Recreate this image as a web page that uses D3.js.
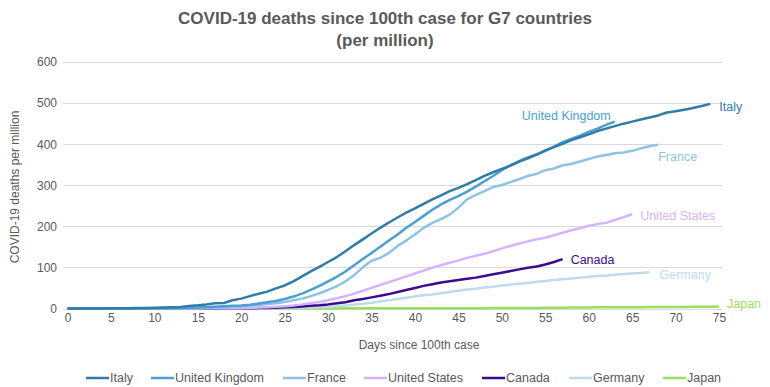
<!DOCTYPE html>
<meta charset="utf-8">
<style>
body { margin: 0; background: #fff; }
text { font-family: "Liberation Sans", Arial, sans-serif; fill: #595959; }
.title { font-weight: bold; font-size: 17px; }
.grid line { stroke: #d9d9d9; stroke-width: 1; }
.series path { fill: none; stroke-width: 2.5px; stroke-linejoin: round; }
</style>
<svg width="770" height="387"></svg>
<script src="https://cdn.jsdelivr.net/npm/d3@7"></script>
<script>

var countries = ["Italy", "United Kingdom", "France", "United States", "Canada", "Germany", "Japan"];

var italy = [0.1,0.1,0.2,0.2,0.3,0.5,0.6,0.9,1.2,1.3,1.8,2.6,3.1,3.9,6.1,7.7,10,13,13.5,20,
  24,30,36,41,49,56,66,78,90,101,113,125,139,154,168,182,196,209,221,233,
  243,254,265,275,285,293,302,312,322,331,339,347,357,365,374,384,392,400,409,416,
  423,431,437,443,449,454,459,464,469,476,479,483,487,492,497];

var uk = [0,0,0,0,0,0.1,0.1,0.1,0.2,0.3,0.5,0.8,0.9,1.1,2.1,2.7,3.5,4.4,5.3,6.5,
  7,9,12,15,18,23,29,36,45,55,66,77,90,105,120,135,150,165,180,196,
  210,225,240,253,264,273,284,296,309,322,336,348,358,367,374,383,393,404,412,420,
  429,437,446,454];

var france = [0,0,0,0,0,0,0,0.1,0.1,0.2,0.3,0.3,0.5,0.7,1.2,1.4,1.9,2.3,3.3,3.9,
  5.6,6.6,8.5,11,13,16,20,24,30,37,45,54,66,81,100,116,123,135,152,165,
  180,196,208,217,228,245,265,276,285,295,300,307,314,322,327,336,340,348,351,357,
  363,369,373,377,379,383,389,394,398];

var us = [0,0,0,0,0,0,0,0,0,0,0.1,0.1,0.1,0.2,0.2,0.3,0.4,0.5,0.7,0.9,
  1.2,1.6,2.2,3,4,5.5,7.5,10,13,16,20,25,30,36,43,50,57,64,71,78,
  85,92,99,105,111,117,123,128,133,139,146,152,158,163,168,172,178,184,190,195,
  201,205,208,215,222,229];

var canada = [0,0,0,0,0,0,0,0,0,0,0,0,0,0,0,0,0.1,0.2,0.3,0.4,
  0.5,0.7,1,1.4,2,2.8,3.8,5,6.5,8,10,12.5,15,20,23,27,31,35,40,45,
  50,55,59,63,66,69,72,75,79,83,87,91,95,99,102,107,113,120];

var germany = [0,0,0,0,0,0,0,0,0,0,0,0,0,0,0,0,0,0,0,0,
  0.1,0.1,0.2,0.3,0.4,0.6,1,1.5,2.2,3,4.5,6,7.5,9.5,11.5,14,17,20,23,26,
  29,32,34,37,40,43,46,48,51,53,56,58,60,62,65,67,69,71,73,75,
  77,79,80,82,84,85,86,88];

var japan = [0,0,0,0,0,0,0,0,0,0,0,0,0,0,0.05,0.05,0.05,0.05,0.1,0.1,
  0.1,0.1,0.15,0.15,0.2,0.2,0.2,0.25,0.25,0.3,0.3,0.3,0.35,0.35,0.4,0.4,0.4,0.45,0.5,0.5,
  0.55,0.6,0.6,0.65,0.7,0.75,0.8,0.85,0.9,1,1.1,1.2,1.3,1.4,1.5,1.7,1.9,2.1,2.3,2.5,
  2.7,2.8,2.9,3,3.1,3.2,3.3,3.4,3.5,3.6,3.7,3.9,4.1,4.3,4.5,4.7];

var xTicks = d3.range(0, 76, 5);
var yTicks = [0, 100, 200, 300, 400, 500, 600];

var series = [italy, uk, france, us, canada, germany, japan];
var colors = ["#2f7ca6", "#4a9fd0", "#8fc3e3", "#d5b4fb", "#3d0b8e", "#bcdcee", "#9bde5c"];
// end label placement relative to last point
var labelPos = [
  {dx: 9, dy: 3, anchor: "start"},
  {dx: -4, dy: -6, anchor: "end"},
  {dx: 0, dy: 12, anchor: "start"},
  {dx: 8, dy: 1, anchor: "start"},
  {dx: 8, dy: 1, anchor: "start"},
  {dx: 10, dy: 2, anchor: "start"},
  {dx: 8, dy: -3, anchor: "start"}
];
var legendX = [86, 151, 283, 364, 482, 569, 663];

var svg = d3.select("svg");

var x = d3.scaleLinear().domain([0, 75]).range([67.5, 719]);
var y = d3.scaleLinear().domain([0, 600]).range([308.5, 61.5]);

// title
svg.append("text").attr("class", "title").attr("x", 385).attr("y", 24)
    .attr("text-anchor", "middle").text("COVID-19 deaths since 100th case for G7 countries");
svg.append("text").attr("class", "title").attr("x", 385).attr("y", 46)
    .attr("text-anchor", "middle").text("(per million)");

// gridlines
svg.append("g").attr("class", "grid")
  .selectAll("line")
  .data(yTicks)
  .enter().append("line")
    .attr("x1", 63).attr("x2", 722)
    .attr("y1", function(d) { return Math.round(y(d)) + 0.5; })
    .attr("y2", function(d) { return Math.round(y(d)) + 0.5; });

// axes
var yAxis = svg.append("g")
    .attr("transform", "translate(57,0)")
    .call(d3.axisLeft(y).tickValues(yTicks).tickSize(0).tickPadding(0));
yAxis.select(".domain").remove();
yAxis.selectAll("text").attr("font-size", 12).attr("fill", "#595959").attr("dy", "0.35em");

var xAxis = svg.append("g")
    .attr("transform", "translate(0,313)")
    .call(d3.axisBottom(x).tickValues(xTicks).tickSize(0).tickPadding(0));
xAxis.select(".domain").remove();
xAxis.selectAll("text").attr("font-size", 12).attr("fill", "#595959").attr("dy", "0.71em");

svg.append("text").attr("x", 419).attr("y", 349).attr("text-anchor", "middle")
    .attr("font-size", 12).text("Days since 100th case");
svg.append("text").attr("transform", "translate(19,187) rotate(-90)")
    .attr("text-anchor", "middle").attr("font-size", 12).text("COVID-19 deaths per million");

// lines
var line = d3.line()
    .x(function(d, i) { return x(i); })
    .y(function(d) { return y(d); });

var g = svg.append("g").attr("class", "series");
for (var k = series.length - 1; k >= 0; k--) {
  g.append("path").attr("d", line(series[k])).attr("stroke", colors[k]);
}

// end labels
series.forEach(function(s, k) {
  var n = s.length - 1;
  svg.append("text")
      .attr("x", x(n) + labelPos[k].dx)
      .attr("y", y(s[n]) + labelPos[k].dy)
      .attr("dy", "0.35em")
      .attr("text-anchor", labelPos[k].anchor)
      .attr("font-size", 12.5)
      .style("fill", colors[k])
      .text(countries[k]);
});

// legend
var legend = svg.append("g").attr("transform", "translate(0,378)");
countries.forEach(function(c, k) {
  var lx = legendX[k];
  legend.append("line").attr("x1", lx).attr("x2", lx + 23).attr("y1", 0).attr("y2", 0)
      .attr("stroke", colors[k]).attr("stroke-width", 2.5);
  legend.append("text").attr("x", lx + 24).attr("y", 0).attr("dy", "0.35em")
      .attr("font-size", 12.5).text(c);
});

</script>
